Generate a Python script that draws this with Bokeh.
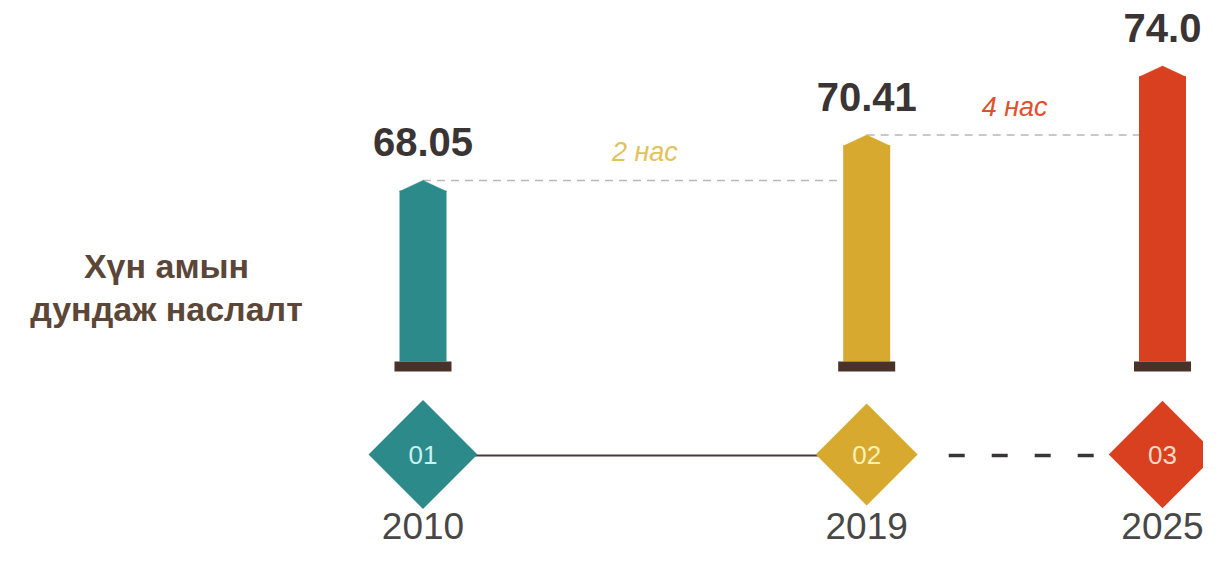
import math
from bokeh.plotting import figure
from bokeh.models import ColumnDataSource, Range1d
from bokeh.core.properties import value
from bokeh.embed import file_html
from bokeh.resources import INLINE

# ---------------- data ----------------
years = [2010, 2019, 2025]
life_expectancy = [68.05, 70.41, 74.0]
value_labels = ["68.05", "70.41", "74.0"]
step_labels = ["01", "02", "03"]
year_labels = ["2010", "2019", "2025"]
gap_labels = ["2 нас", "4 нас"]
title_lines = ["Хүн амын", "дундаж наслалт"]

# ---------------- style ----------------
bar_colors = ["#2d8a8a", "#d7a92f", "#d9401f"]
step_text_colors = ["#c9f1ee", "#fff0b5", "#ffd8c6"]
gap_colors = ["#e2c25a", "#e0502f"]
diamond_sizes = [77, 72, 76]
FONT = "Liberation Sans"

W, H = 1203, 547
PPY = 49.30          # pixels per year
X0 = 2001.430        # year at canvas left edge
PPU = 19.22          # pixels per life-expectancy unit
Y_TOP = 77.41        # value at canvas top edge


def sy(py):
    """canvas pixel row -> value units"""
    return Y_TOP - py / PPU


def sx(px):
    """canvas pixel column -> year units"""
    return X0 + px / PPY


p = figure(width=W, height=H, output_backend="svg", toolbar_location=None,
           x_range=Range1d(X0, X0 + W / PPY),
           y_range=Range1d(Y_TOP - H / PPU, Y_TOP),
           min_border=0, background_fill_color="white", border_fill_color="white")
p.axis.visible = False
p.grid.visible = False
p.outline_line_color = None

hw = 23.5 / PPY          # half bar width in years
shoulder = 11 / PPU      # height of the arrow tip
base = sy(361)

# dashed reference lines between bar tops
p.segment(x0=years[:-1], y0=life_expectancy[:-1],
          x1=[years[i + 1] - hw for i in range(len(years) - 1)],
          y1=life_expectancy[:-1],
          line_color="#b8b8b8", line_width=1.5, line_dash="8 6")

# bars with arrow tips
p.vbar(x=years, top=[v - shoulder + 0.03 for v in life_expectancy], bottom=base,
       width=2 * hw, fill_color=bar_colors, line_color=None)
p.patches(xs=[[x - hw, x, x + hw] for x in years],
          ys=[[v - shoulder, v, v - shoulder] for v in life_expectancy],
          fill_color=bar_colors, line_color=bar_colors, line_width=0.5)
# base caps
p.rect(x=years, y=sy(366), width=57 / PPY, height=10 / PPU,
       fill_color="#48322a", line_color=None)

# value labels
p.text(x=years, y=[v + 38 / PPU for v in life_expectancy], text=value_labels,
       text_align="center", text_baseline="middle",
       text_font=value(FONT), text_font_size="40px", text_font_style="bold",
       text_color="#3a3434")

# gap labels
p.text(x=[(years[i] + years[i + 1]) / 2 for i in range(len(years) - 1)],
       y=[v + 28 / PPU for v in life_expectancy[:-1]], text=gap_labels,
       text_align="center", text_baseline="middle",
       text_font=value(FONT), text_font_size="27px", text_font_style="italic",
       text_color=gap_colors)

# timeline
yd = sy(455)
p.line(x=years[:2], y=[yd, yd], line_color="#4a3b3b", line_width=2)
p.line(x=[years[1] + 82 / PPY, years[2]], y=[yd, yd], line_color="#3a3535",
       line_width=3.5, line_dash="16 27")

src = ColumnDataSource(dict(x=years, y=[sy(454)] * 3, c=bar_colors, s=diamond_sizes,
                            t=step_labels, tc=step_text_colors))
p.scatter(x="x", y="y", size="s", marker="square", angle=math.pi / 4,
          fill_color="c", line_color=None, source=src)
p.text(x="x", y="y", text="t", text_color="tc", source=src,
       text_align="center", text_baseline="middle",
       text_font=value(FONT), text_font_size="26px")

# year labels
p.text(x=years, y=sy(525), text=year_labels, text_align="center",
       text_baseline="middle", text_font=value(FONT), text_font_size="37px",
       text_color="#474747")

# left title
p.text(x=[sx(166), sx(166)], y=[sy(265), sy(308)], text=title_lines,
       text_align="center", text_baseline="middle",
       text_font=value(FONT), text_font_size="34px", text_font_style="bold",
       text_color="#5b4637")

open("out.html", "w").write(file_html(p, INLINE))
